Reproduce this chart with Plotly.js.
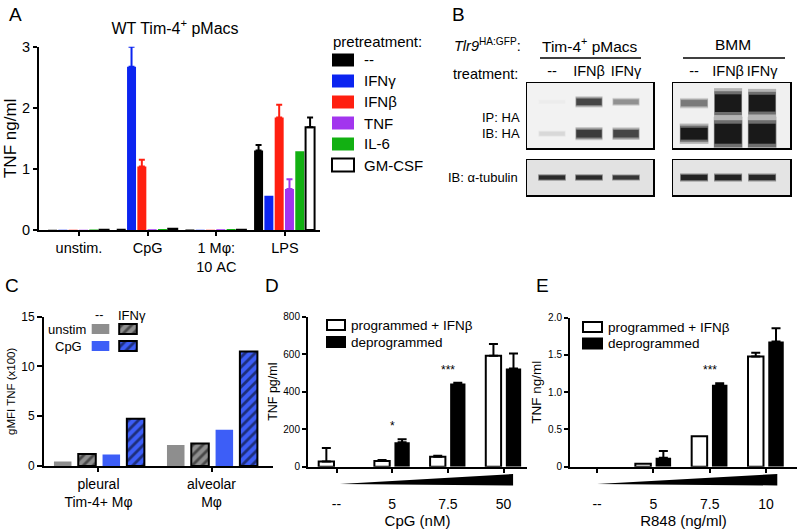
<!DOCTYPE html>
<html><head><meta charset="utf-8">
<script src="https://cdn.plot.ly/plotly-3.0.1.min.js"></script>
<style>html,body{margin:0;padding:0;background:#fff}#chart{width:800px;height:530px}</style>
</head><body><div id="chart"></div>
<script>
// ================= DATA =================
// Panel A: WT Tim-4+ pMacs, TNF ng/ml
const aCategories = ['unstim.', 'CpG', '1 Mφ:<br>10 AC', 'LPS'];
const aSeriesNames = ['--', 'IFNγ', 'IFNβ', 'TNF', 'IL-6', 'GM-CSF'];
const aNone  = [0.005, 0.02, 0.008, 1.30];
const aIFNg  = [0.003, 2.67, 0.004, 0.56];
const aIFNb  = [0.003, 1.04, 0.004, 1.84];
const aTNF   = [0.005, 0.012, 0.012, 0.67];
const aIL6   = [0.008, 0.015, 0.015, 1.29];
const aGMCSF = [0.004, 0.02, 0.006, 1.68];
const aNoneErr  = [null, null, null, 0.09];
const aIFNgErr  = [null, 0.33, null, null];
const aIFNbErr  = [null, 0.11, null, 0.21];
const aTNFErr   = [null, null, null, 0.16];
const aIL6Err   = [null, null, null, null];
const aGMCSFErr = [null, null, null, 0.16];
const aYTicks = [0, 1, 2, 3];

// Panel B: western blot band intensities (relative)
const blotLanes = ['--', 'IFNβ', 'IFNγ'];
const tim4UpperBand = [0.03, 0.8, 0.45];
const tim4LowerBand = [0.12, 0.85, 0.8];
const bmmUpperBand  = [0.55, 1.9, 1.8];
const bmmLowerBand  = [1.1, 2.0, 2.0];
const tim4Tubulin   = [0.85, 0.85, 0.8];
const bmmTubulin    = [0.9, 0.9, 0.88];

// Panel C: gMFI TNF (x100)
const cCategories = ['pleural<br>Tim-4+ Mφ', 'alveolar<br>Mφ'];
const cSeriesNames = ['unstim --', 'unstim IFNγ', 'CpG --', 'CpG IFNγ'];
const cUnstimNone = [0.45, 2.1];
const cUnstimIFNg = [1.2, 2.25];
const cCpGNone    = [1.15, 3.65];
const cCpGIFNg    = [4.75, 11.5];
const cYTicks = [0, 5, 10, 15];

// Panel D: TNF pg/ml vs CpG (nM)
const dCategories = ['--', '5', '7.5', '50'];
const dProgrammed      = [28, 30, 53, 592];
const dProgrammedErr   = [72, 6, 5, 62];
const dDeprogrammed    = [0, 130, 444, 524];
const dDeprogrammedErr = [null, 16, 4, 80];
const dSignif = ['', '*', '***', ''];
const dYTicks = [0, 200, 400, 600, 800];

// Panel E: TNF ng/ml vs R848 (ng/ml)
const eCategories = ['--', '5', '7.5', '10'];
const eProgrammed      = [0, 0.04, 0.41, 1.48];
const eProgrammedErr   = [null, null, null, 0.05];
const eDeprogrammed    = [0, 0.12, 1.10, 1.68];
const eDeprogrammedErr = [null, 0.09, 0.02, 0.18];
const eSignif = ['', '', '***', ''];
const eYTicks = [0, 0.5, 1, 1.5, 2];
const eYTickText = ['0', '0.5', '1.0', '1.5', '2.0'];
const deSeriesNames = ['programmed + IFNβ', 'deprogrammed'];

// ================= STYLE / LAYOUT =================
const FONT = 'Liberation Sans, Arial, Helvetica, sans-serif';
const W = 800, H = 530;
const fx = p => p / W;            // pixel x -> paper
const fy = p => 1 - p / H;        // pixel y -> paper
const aColors = ['#000000', '#0b24f0', '#ff1f10', '#a235ee', '#12b012', '#ffffff'];
const aOutline = [0, 0, 0, 0, 0, 2];
const aErrColors = ['#000000', '#0b24f0', '#ff1f10', '#a235ee', '#12b012', '#000000'];
const cGray = '#8e8e8e', cBlue = '#3d5ef7';
const f = (size) => ({family: FONT, size: size, color: '#000'});

const data = [];
const shapes = [];
const annotations = [];

function ann(text, x, y, opt) {
  annotations.push(Object.assign({text, x: fx(x), y: fy(y), xref: 'paper', yref: 'paper',
    showarrow: false, xanchor: 'center', yanchor: 'middle', font: f(13)}, opt || {}));
}
const num = v => (v === null || v === undefined) ? 0 : v;
// missing error values -> NaN so that no whisker / cap is drawn
function errY(arr, color, w) {
  return {type: 'data', symmetric: false,
          array: arr.map(v => v === null ? NaN : v),
          arrayminus: arr.map(v => v === null ? NaN : 0),
          color: color, thickness: 2, width: w, visible: true};
}

// ---------- Panel A ----------
const aValues = [aNone, aIFNg, aIFNb, aTNF, aIL6, aGMCSF];
const aErrors = [aNoneErr, aIFNgErr, aIFNbErr, aTNFErr, aIL6Err, aGMCSFErr];
const aPos = aCategories.map((_, i) => i);
aValues.forEach((vals, i) => {
  data.push({type: 'bar', name: aSeriesNames[i], x: aPos, y: vals, xaxis: 'x', yaxis: 'y',
    width: 0.131, offset: -0.45 + i * 0.15,
    marker: {color: aColors[i], line: {color: '#000', width: aOutline[i]}},
    error_y: errY(aErrors[i], aErrColors[i], 3), showlegend: false});
});
ann('pretreatment:', 331, 42, {xanchor: 'left', font: f(15)});
aSeriesNames.forEach((nm, i) => {
  const c = 60 + 21 * i;
  shapes.push({type: 'rect', xref: 'paper', yref: 'paper', x0: fx(332), x1: fx(354),
    y0: fy(c + 6.5), y1: fy(c - 6.5), fillcolor: aColors[i],
    line: {color: '#000', width: aOutline[i]}});
  ann(nm, 362, c, {xanchor: 'left', font: f(15)});
});

// ---------- Panel C ----------
const cValues = [cUnstimNone, cUnstimIFNg, cCpGNone, cCpGIFNg];
const cColors = [cGray, cGray, cBlue, cBlue];
const cHatched = [false, true, false, true];
const cOffsets = [-0.394, -0.179, 0.036, 0.251];
const cPos = cCategories.map((_, i) => i);
function cMarker(i) {
  const m = {color: cColors[i], line: {color: '#000', width: cHatched[i] ? 2 : 0}};
  if (cHatched[i]) m.pattern = {shape: '/', fillmode: 'overlay', bgcolor: cColors[i],
                                fgcolor: '#000', size: 7, solidity: 0.4};
  return m;
}
cValues.forEach((vals, i) => {
  data.push({type: 'bar', name: cSeriesNames[i], x: cPos, y: vals, xaxis: 'x2', yaxis: 'y2',
    width: 0.155, offset: cOffsets[i], marker: cMarker(i), showlegend: false});
});
// legend swatches for C (2 x 2 grid) on a hidden mini axis
const cLegCol = [0, 1, 0, 1], cLegRow = [1, 1, 0, 0];
cValues.forEach((_, i) => {
  data.push({type: 'bar', x: [cLegCol[i]], y: [0.59], base: [cLegRow[i] - 0.295],
    xaxis: 'x9', yaxis: 'y9', width: 0.64, marker: cMarker(i), showlegend: false, hoverinfo: 'skip'});
});
ann('--', 99, 315, {font: f(12.5)});
ann('IFNγ', 132, 315, {font: f(13)});
ann('unstim', 88, 329, {xanchor: 'right', font: f(13)});
ann('CpG', 84, 346, {xanchor: 'right', font: f(13)});

// ---------- Panels D & E ----------
function addDoseTraces(cats, prog, progErr, deprog, deprogErr, xa, ya) {
  const pos = cats.map((_, i) => i);
  data.push({type: 'bar', name: deSeriesNames[0], x: pos, y: prog, xaxis: xa, yaxis: ya,
    width: 0.275, offset: -0.32,
    marker: {color: '#fff', line: {color: '#000', width: prog.map(v => v > 0 ? 2 : 0)}},
    error_y: errY(progErr, '#000', 4.5), showlegend: false});
  data.push({type: 'bar', name: deSeriesNames[1], x: pos, y: deprog, xaxis: xa, yaxis: ya,
    width: 0.275, offset: 0.04, marker: {color: '#000', line: {color: '#000', width: 0}},
    error_y: errY(deprogErr, '#000', 4.5), showlegend: false});
}
addDoseTraces(dCategories, dProgrammed, dProgrammedErr, dDeprogrammed, dDeprogrammedErr, 'x3', 'y3');
addDoseTraces(eCategories, eProgrammed, eProgrammedErr, eDeprogrammed, eDeprogrammedErr, 'x4', 'y4');

function addStars(sig, prog, progErr, deprog, deprogErr, xa, ya) {
  sig.forEach((s, i) => {
    if (!s) return;
    const top = Math.max(prog[i] + num(progErr[i]), deprog[i] + num(deprogErr[i]));
    annotations.push({text: s, x: i, y: top, xref: xa, yref: ya, showarrow: false,
      yanchor: 'bottom', yshift: 4, font: f(12)});
  });
}
addStars(dSignif, dProgrammed, dProgrammedErr, dDeprogrammed, dDeprogrammedErr, 'x3', 'y3');
addStars(eSignif, eProgrammed, eProgrammedErr, eDeprogrammed, eDeprogrammedErr, 'x4', 'y4');

function doseLegend(x0, x1, rows, textX) {
  const fills = ['#fff', '#000'];
  deSeriesNames.forEach((nm, i) => {
    shapes.push({type: 'rect', xref: 'paper', yref: 'paper', x0: fx(x0), x1: fx(x1),
      y0: fy(rows[i] + 5), y1: fy(rows[i] - 5), fillcolor: fills[i],
      line: {color: '#000', width: 2}});
    ann(nm, textX, rows[i], {xanchor: 'left', font: f(13.5)});
  });
}
doseLegend(327, 345, [325, 342], 349);
doseLegend(583, 602, [327, 343.5], 606);

// dose gradient wedges (x in category units of each panel)
shapes.push({type: 'path', xref: 'x3', yref: 'paper',
  path: 'M 0.06 ' + fy(484) + ' L 3.17 ' + fy(474) + ' L 3.17 ' + fy(485.5) + ' Z',
  fillcolor: '#000', line: {width: 0}});
shapes.push({type: 'path', xref: 'x4', yref: 'paper',
  path: 'M 0.0 ' + fy(484) + ' L 3.2 ' + fy(474) + ' L 3.2 ' + fy(485.5) + ' Z',
  fillcolor: '#000', line: {width: 0}});

// ---------- Panel B (blots) ----------
function bandGray(v, strength, bg) {
  const t = Math.min(v, 1);
  const g = Math.round(bg - strength * t);
  return `rgb(${g},${g},${g})`;
}
// each band = stacked soft layers (blur look)
const bandLayers = [[1.7, 0.96, 60], [1.35, 0.94, 130], [1.0, 0.9, 215]];
function addBands(vals, yPos, xa, ya, w0, k, half, bg) {
  bandLayers.forEach(L => {
    vals.forEach((v, i) => {
      const w = (w0 + k * v) * L[0];
      const h = half * L[1];
      data.push({type: 'scatter', mode: 'lines', x: [i - h, i + h], y: [yPos, yPos],
        xaxis: xa, yaxis: ya, line: {color: bandGray(v, L[2], bg), width: w},
        hoverinfo: 'skip', showlegend: false});
    });
  });
}
addBands(tim4UpperBand, 0.71, 'x5', 'y5', 2.5, 5, 0.38, 242);
addBands(tim4LowerBand, 0.22, 'x5', 'y5', 3, 5.5, 0.38, 242);
addBands(bmmUpperBand, 0.69, 'x6', 'y6', 1.5, 8.5, 0.43, 240);
addBands(bmmLowerBand, 0.22, 'x6', 'y6', 2, 9, 0.44, 240);
addBands(tim4Tubulin, 0.5, 'x7', 'y7', 1, 3.5, 0.39, 226);
addBands(bmmTubulin, 0.5, 'x8', 'y8', 1.5, 4, 0.43, 228);

// blot backgrounds
[[527, 653, 83, 148, '#f2f2f2'], [673, 790, 83, 148, '#f0f0f0'],
 [527, 653, 160, 195, '#e2e2e2'], [673, 790, 160, 195, '#e4e4e4']].forEach(b => {
  shapes.push({type: 'rect', xref: 'paper', yref: 'paper', layer: 'below',
    x0: fx(b[0]), x1: fx(b[1]), y0: fy(b[3]), y1: fy(b[2]), fillcolor: b[4], line: {width: 0}});
});
// header underlines
shapes.push({type: 'line', xref: 'paper', yref: 'paper', x0: fx(540), x1: fx(641), y0: fy(58), y1: fy(58), line: {color: '#000', width: 1.3}});
shapes.push({type: 'line', xref: 'paper', yref: 'paper', x0: fx(683), x1: fx(785), y0: fy(58), y1: fy(58), line: {color: '#000', width: 1.3}});
ann('<i>Tlr9</i><sup>HA:GFP</sup>:', 523, 45, {xanchor: 'right', font: f(14.5)});
ann('Tim-4<sup>+</sup> pMacs', 590, 45, {font: f(15.5)});
ann('BMM', 733, 45, {font: f(15.5)});
ann('treatment:', 520, 74, {xanchor: 'right', font: f(14.5)});
ann('IP: HA', 522, 117, {xanchor: 'right', font: f(13)});
ann('IB: HA', 522, 133, {xanchor: 'right', font: f(13)});
ann('IB: α-tubulin', 520, 177, {xanchor: 'right', font: f(13)});

// panel letters
[['A', 15, 15], ['B', 458, 15], ['C', 12, 285], ['D', 272, 285], ['E', 542, 285]].forEach(l =>
  ann(l[0], l[1], l[2], {font: f(19)}));

// ---------- Axes ----------
const base = {showgrid: false, zeroline: false, showline: true, linecolor: '#000', linewidth: 2,
  ticks: 'outside', tickcolor: '#000', tickwidth: 2, ticklen: 5, fixedrange: true, tickfont: f(13)};
const blotAx = {showgrid: false, zeroline: false, showline: true, mirror: true, linecolor: '#000',
  linewidth: 1.5, ticks: '', fixedrange: true, showticklabels: false};
const hidden = {visible: false, fixedrange: true};

const layout = {
  width: W, height: H, margin: {l: 0, r: 0, t: 0, b: 0}, autosize: false,
  paper_bgcolor: '#fff', plot_bgcolor: 'rgba(0,0,0,0)', barmode: 'overlay', showlegend: false,
  font: f(13),
  title: {text: 'WT Tim-4<sup>+</sup> pMacs', x: fx(175), y: fy(28), xref: 'paper', yref: 'paper',
          xanchor: 'center', yanchor: 'middle', font: f(16)},
  // A
  xaxis: Object.assign({}, base, {domain: [fx(39), fx(320)], anchor: 'y', range: [-0.582, 3.51],
    tickvals: aPos, ticktext: aCategories, ticklen: 4, tickfont: f(14.5)}),
  yaxis: Object.assign({}, base, {domain: [fy(230), fy(46.7)], anchor: 'x', range: [0, 3],
    tickvals: aYTicks, ticklen: 4, tickfont: f(14.5),
    title: {text: 'TNF ng/ml', font: f(17), standoff: 1}}),
  // C
  xaxis2: Object.assign({}, base, {domain: [fx(44), fx(273)], anchor: 'y2', range: [-0.482, 1.544],
    tickvals: cPos, ticktext: cCategories, ticklen: 4, tickfont: f(14)}),
  yaxis2: Object.assign({}, base, {domain: [fy(466), fy(316.7)], anchor: 'x2', range: [0, 15],
    tickvals: cYTicks, tickfont: f(12),
    title: {text: 'gMFI TNF (x100)', font: f(11.5), standoff: 3}}),
  // D
  xaxis3: Object.assign({}, base, {domain: [fx(308), fx(527)], anchor: 'y3', range: [-0.512, 3.42],
    tickvals: dCategories.map((_, i) => i), ticktext: dCategories, ticklen: 4, ticklabelstandoff: 19,
    tickfont: f(14), title: {text: 'CpG (nM)', font: f(15), standoff: 1}}),
  yaxis3: Object.assign({}, base, {domain: [fy(466.7), fy(316.7)], anchor: 'x3', range: [0, 800],
    tickvals: dYTicks, ticklen: 4, tickfont: f(10),
    title: {text: 'TNF pg/ml', font: f(12.5), standoff: 3}}),
  // E
  xaxis4: Object.assign({}, base, {domain: [fx(570), fx(797)], anchor: 'y4', range: [-0.48, 3.55],
    tickvals: eCategories.map((_, i) => i), ticktext: eCategories, ticklen: 4, ticklabelstandoff: 19,
    tickfont: f(14), title: {text: 'R848 (ng/ml)', font: f(15), standoff: 1}}),
  yaxis4: Object.assign({}, base, {domain: [fy(466.7), fy(317.7)], anchor: 'x4', range: [0, 2],
    tickvals: eYTicks, ticktext: eYTickText, ticklen: 4, tickfont: f(10),
    title: {text: 'TNF ng/ml', font: f(13.5), standoff: 3}}),
  // B blots
  xaxis5: Object.assign({}, blotAx, {domain: [fx(527), fx(653)], anchor: 'y5', range: [-0.676, 2.73],
    side: 'top', showticklabels: true, tickvals: [0, 1, 2], ticktext: blotLanes, tickfont: f(14.5)}),
  yaxis5: Object.assign({}, blotAx, {domain: [fy(148), fy(83)], anchor: 'x5', range: [0, 1]}),
  xaxis6: Object.assign({}, blotAx, {domain: [fx(673), fx(790)], anchor: 'y6', range: [-0.62, 2.82],
    side: 'top', showticklabels: true, tickvals: [0, 1, 2], ticktext: blotLanes, tickfont: f(14.5)}),
  yaxis6: Object.assign({}, blotAx, {domain: [fy(148), fy(83)], anchor: 'x6', range: [0, 1]}),
  xaxis7: Object.assign({}, blotAx, {domain: [fx(527), fx(653)], anchor: 'y7', range: [-0.676, 2.73]}),
  yaxis7: Object.assign({}, blotAx, {domain: [fy(195), fy(160)], anchor: 'x7', range: [0, 1]}),
  xaxis8: Object.assign({}, blotAx, {domain: [fx(673), fx(790)], anchor: 'y8', range: [-0.62, 2.82]}),
  yaxis8: Object.assign({}, blotAx, {domain: [fy(195), fy(160)], anchor: 'x8', range: [0, 1]}),
  // C legend mini axis
  xaxis9: Object.assign({}, hidden, {domain: [fx(86.75), fx(141.75)], anchor: 'y9', range: [-0.5, 1.5]}),
  yaxis9: Object.assign({}, hidden, {domain: [fy(354.5), fy(320.5)], anchor: 'x9', range: [-0.5, 1.5]}),
  shapes: shapes,
  annotations: annotations
};

Plotly.newPlot('chart', data, layout, {staticPlot: true, displayModeBar: false});
</script>
</body></html>
